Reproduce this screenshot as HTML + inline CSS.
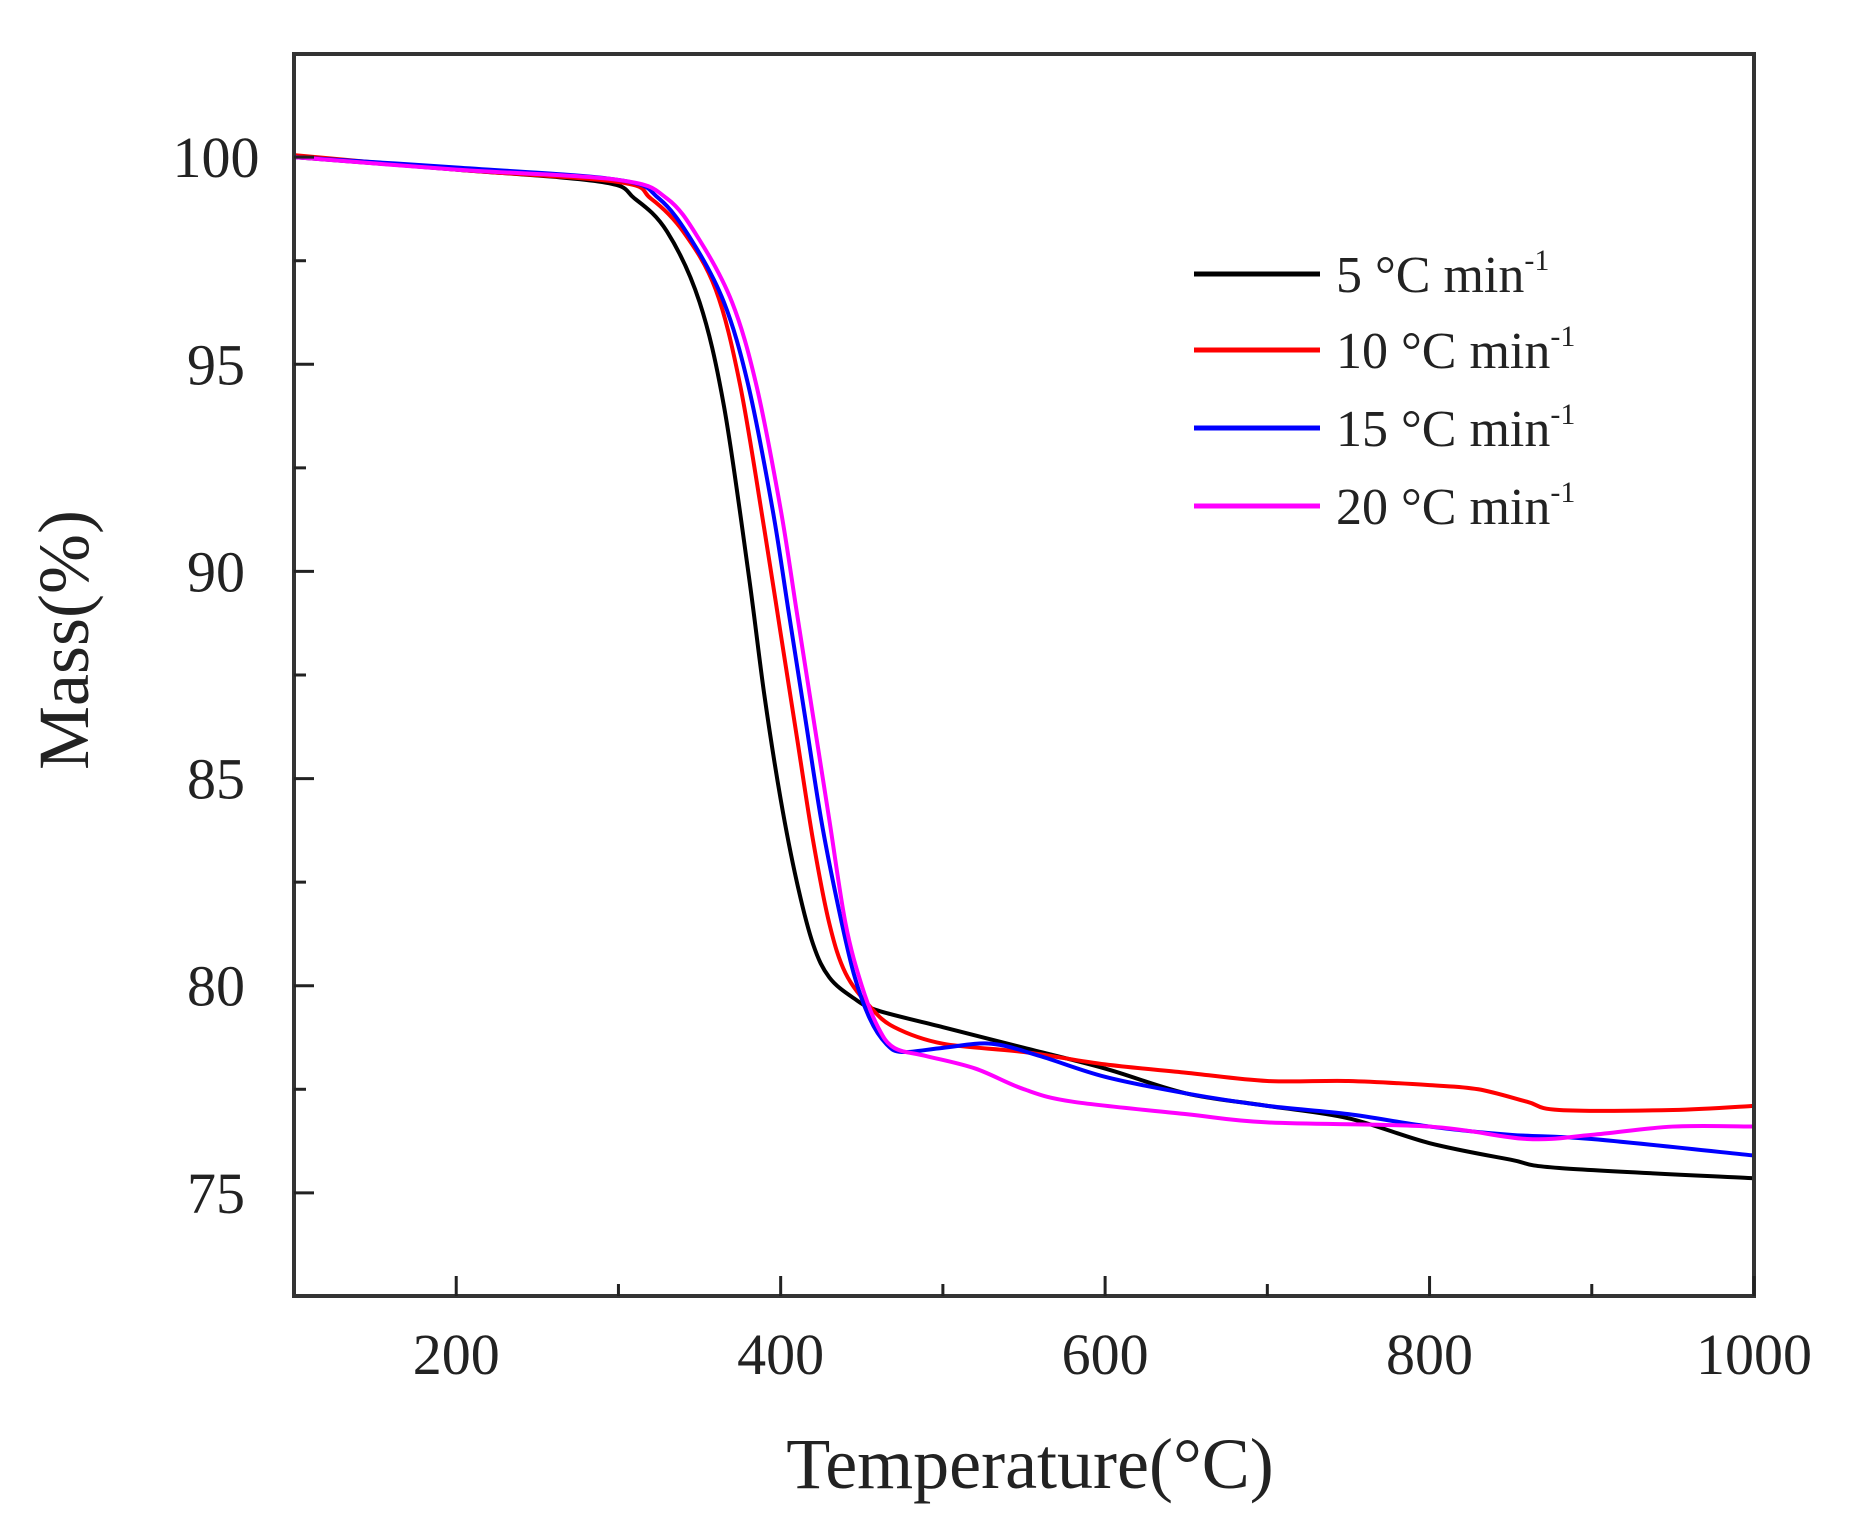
<!DOCTYPE html>
<html><head><meta charset="utf-8"><style>
html,body{margin:0;padding:0;background:#fff;}
svg{display:block;}
text{font-family:"Liberation Serif",serif;fill:#222;}
</style></head><body>
<svg id="s" width="1872" height="1540" viewBox="0 0 1872 1540" xmlns="http://www.w3.org/2000/svg">
<rect x="0" y="0" width="1872" height="1540" fill="#fff"/>
<g id="curves" fill="none" stroke-width="4" stroke-linejoin="round"></g>
<rect x="294" y="54" width="1460" height="1242" fill="none" stroke="#333" stroke-width="4"/>
<g id="ticks" stroke="#222" stroke-width="3"></g>
<g id="labels" font-size="58" text-anchor="middle"></g>
<text x="1030" y="1488" font-size="72" text-anchor="middle">Temperature(°C)</text>
<text transform="translate(88,640) rotate(-90)" font-size="72" text-anchor="middle">Mass(%)</text>
<g stroke-width="5">
<line x1="1194" y1="274" x2="1320" y2="274" stroke="#000"/>
<line x1="1194" y1="350" x2="1320" y2="350" stroke="#f00"/>
<line x1="1194" y1="428" x2="1320" y2="428" stroke="#00f"/>
<line x1="1194" y1="506" x2="1320" y2="506" stroke="#f0f"/>
</g>
<g font-size="52">
<text x="1336" y="292">5 °C min<tspan font-size="30" dy="-22">-1</tspan></text>
<text x="1336" y="368">10 °C min<tspan font-size="30" dy="-22">-1</tspan></text>
<text x="1336" y="446">15 °C min<tspan font-size="30" dy="-22">-1</tspan></text>
<text x="1336" y="524">20 °C min<tspan font-size="30" dy="-22">-1</tspan></text>
</g>
</svg>
<script>
const L=294,R=1754,T=54,B=1296,xmin=100,xmax=1000,ymin=72.51,ymax=102.49;
const X=v=>L+(v-xmin)/(xmax-xmin)*(R-L), Y=v=>B-(v-ymin)/(ymax-ymin)*(B-T);
const NS="http://www.w3.org/2000/svg";
function el(p,n,a,t){const e=document.createElementNS(NS,n);for(const k in a)e.setAttribute(k,a[k]);if(t)e.textContent=t;p.appendChild(e);return e;}
const tk=document.getElementById('ticks'),lb=document.getElementById('labels');
for(let v=200;v<=1000;v+=100){const x=X(v);const major=v%200==0;el(tk,'line',{x1:x,y1:B,x2:x,y2:B-(major?20:12)});if(major)el(lb,'text',{x:x,y:B+78},v);}
for(let v=75;v<=100;v+=2.5){const y=Y(v);const major=v%5==0;el(tk,'line',{x1:L,y1:y,x2:L+(major?20:12),y2:y});if(major)el(lb,'text',{x:L-78,y:y+20},v);}
const data={
"#000":[[100,100],[200,99.7],[290,99.4],[310,99.0],[330,98.2],[350,96.5],[365,94],[380,90],[390,87],[400,84.5],[410,82.5],[420,81],[430,80.2],[445,79.7],[460,79.4],[500,79.0],[550,78.5],[600,78.0],[650,77.4],[700,77.1],[750,76.8],[800,76.2],[850,75.8],[880,75.6],[1000,75.35]],
"#f00":[[100,100.05],[200,99.7],[300,99.4],[320,99.0],[340,98.2],[360,96.8],[375,94.5],[390,91],[400,88.5],[410,86],[420,83.5],[430,81.5],[440,80.3],[455,79.5],[470,79.0],[500,78.6],[550,78.4],[600,78.1],[650,77.9],[700,77.7],[750,77.7],[800,77.6],[830,77.5],[860,77.2],[880,77.0],[950,77.0],[1000,77.1]],
"#00f":[[100,100],[200,99.75],[300,99.45],[325,99.0],[345,98],[365,96.5],[380,94.5],[395,91.5],[405,89],[415,86.5],[425,84],[435,82],[445,80.3],[455,79.2],[465,78.6],[475,78.4],[500,78.5],[530,78.6],[560,78.3],[600,77.8],[650,77.4],[700,77.1],[750,76.9],[800,76.6],[850,76.4],[900,76.3],[1000,75.9]],
"#f0f":[[100,100],[200,99.7],[300,99.45],[330,99.0],[350,98],[370,96.5],[385,94.5],[400,91.5],[410,89],[420,86.5],[430,84],[440,81.5],[450,80],[460,79],[470,78.5],[490,78.3],[520,78.0],[550,77.5],[580,77.2],[650,76.9],[700,76.7],[800,76.6],[860,76.3],[900,76.4],[950,76.6],[1000,76.6]]};
const g=document.getElementById('curves');
for(const c in data){const p=data[c].map(d=>[X(d[0]),Y(d[1])]);let s=`M${p[0][0]},${p[0][1]}`;
for(let i=0;i<p.length-1;i++){const p0=p[Math.max(0,i-1)],p1=p[i],p2=p[i+1],p3=p[Math.min(p.length-1,i+2)];
s+=` C${p1[0]+(p2[0]-p0[0])/6},${p1[1]+(p2[1]-p0[1])/6} ${p2[0]-(p3[0]-p1[0])/6},${p2[1]-(p3[1]-p1[1])/6} ${p2[0]},${p2[1]}`;}
el(g,'path',{d:s,stroke:c});}
</script>
</body></html>
